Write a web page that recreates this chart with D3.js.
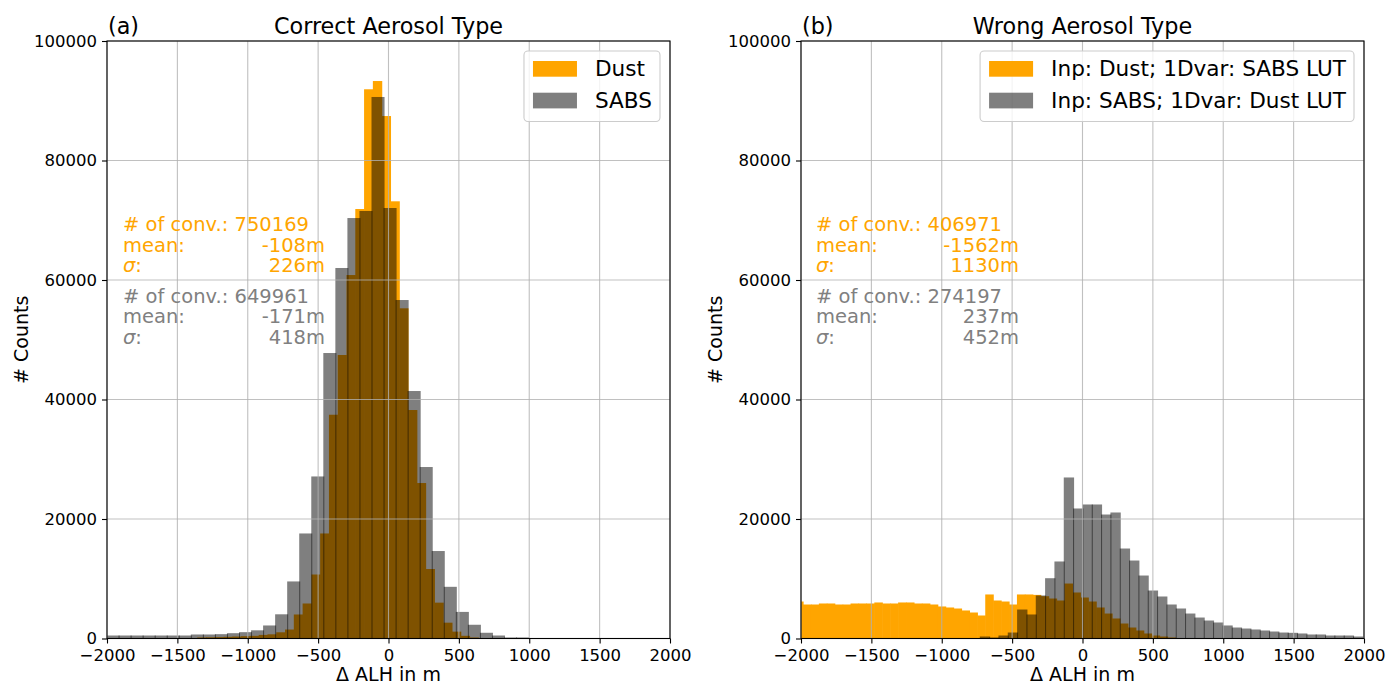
<!DOCTYPE html>
<html>
<head>
<meta charset="utf-8">
<script src="https://cdn.jsdelivr.net/npm/d3@7"></script>
<style>
  body { margin: 0; background: #fff; }
  svg { display: block; }
  text { font-family: "DejaVu Sans", sans-serif; }
</style>
</head>
<body>
<svg id="chart" width="1386" height="684"></svg>
<script>
// ---- Axis ticks ----
const xTicks = [-2000, -1500, -1000, -500, 0, 500, 1000, 1500, 2000];
const yTicks = [0, 20000, 40000, 60000, 80000, 100000];

// ---- (a) Correct aerosol type ----
// Dust histogram: first bin edge and bin width in m, counts per bin
const dustStartA = -1357;
const dustWidthA = 62.4;
const dustCountsA = [170, 200, 230, 280, 330, 390, 450, 600, 700, 1040, 1500, 4020,
  5860, 10710, 17580, 37450, 47450, 60830, 71880, 91920, 93300, 87440, 73170, 55260,
  38240, 26020, 11630, 6000, 2650, 1150, 450, 170];
// SABS histogram
const sabsStartA = -2000;
const sabsWidthA = 85.58;
const sabsCountsA = [500, 500, 500, 500, 500, 500, 500, 670, 670, 725, 890, 1060, 1370,
  2180, 4050, 9550, 17580, 27120, 47780, 62010, 70370, 71550, 90630, 72050, 56650, 41420,
  28700, 14640, 8650, 4450, 2300, 960, 500, 170, 170];

// ---- (b) Wrong aerosol type ----
const dustStartB = -2039.8;
const dustWidthB = 56.29;
const dustCountsB = [6190, 5690, 5690, 5860, 5860, 5690, 5690, 5860, 5860, 5860, 6030,
  5860, 5860, 6030, 6030, 5860, 5860, 5690, 5360, 5190, 5020, 4690, 4350, 3850, 7370,
  6360, 6190, 5690, 7370, 7370, 7300, 7080, 6690, 6360, 9200, 7700, 6860, 6190, 5190,
  4180, 3350, 2510, 1840, 1340, 840, 500, 330, 170];
const sabsStartB = -726.3;
const sabsWidthB = 66.3;
const sabsCountsB = [335, 170, 500, 1000, 4850, 4020, 7200, 10090, 12890, 26950, 21760,
  22430, 22430, 20750, 21090, 15060, 13050, 10540, 8030, 7030, 5690, 5020, 4180, 3510,
  3010, 2680, 2180, 1840, 1670, 1510, 1340, 1170, 1000, 950, 840, 670, 670, 500, 500,
  500, 335];

// ---- Texts ----
const panelTags = ["(a)", "(b)"];
const panelTitles = ["Correct Aerosol Type", "Wrong Aerosol Type"];
const legendLabelsA = ["Dust", "SABS"];
const legendLabelsB = ["Inp: Dust; 1Dvar: SABS LUT", "Inp: SABS; 1Dvar: Dust LUT"];
const statsA = { dust: ["750169", "-108m", "226m"], sabs: ["649961", "-171m", "418m"] };
const statsB = { dust: ["406971", "-1562m", "1130m"], sabs: ["274197", "237m", "452m"] };

const ORANGE = "#ffa500";
const GREY_TEXT = "#808080";
const FS_TICK = 16.5, FS_TITLE = 22.3, FS_LABEL = 19, FS_LEGEND = 21.6, FS_STATS = 19.5;

const svg = d3.select("#chart");

const panels = [
  { left: 107, right: 670, tag: panelTags[0], title: panelTitles[0],
    dust: { start: dustStartA, width: dustWidthA, counts: dustCountsA },
    sabs: { start: sabsStartA, width: sabsWidthA, counts: sabsCountsA },
    legend: legendLabelsA, stats: statsA, textLeft: 123, textRight: 325 },
  { left: 801, right: 1364, tag: panelTags[1], title: panelTitles[1],
    dust: { start: dustStartB, width: dustWidthB, counts: dustCountsB },
    sabs: { start: sabsStartB, width: sabsWidthB, counts: sabsCountsB },
    legend: legendLabelsB, stats: statsB, textLeft: 816, textRight: 1019 }
];

const plotTop = 41, plotBottom = 638.5;

panels.forEach((p, pi) => {
  const x = d3.scaleLinear().domain([-2000, 2000]).range([p.left, p.right]);
  const y = d3.scaleLinear().domain([0, 100000]).range([plotBottom, plotTop]);
  const g = svg.append("g");

  const clipId = "clip" + pi;
  svg.append("clipPath").attr("id", clipId)
    .append("rect").attr("x", p.left).attr("y", plotTop)
    .attr("width", p.right - p.left).attr("height", plotBottom - plotTop);

  const bars = g.append("g").attr("clip-path", `url(#${clipId})`);

  const bins = s => s.counts.map((c, i) => ({ x0: s.start + i * s.width, x1: s.start + (i + 1) * s.width, c }));

  // dust bars (opaque orange)
  bars.append("g").selectAll("rect").data(bins(p.dust)).join("rect")
    .attr("x", d => x(d.x0) - 0.3)
    .attr("width", d => x(d.x1) - x(d.x0) + 0.6)
    .attr("y", d => y(d.c))
    .attr("height", d => y(0) - y(d.c))
    .attr("fill", ORANGE);

  // SABS bars (half-transparent black), neighbours overlap slightly
  bars.append("g").selectAll("rect").data(bins(p.sabs)).join("rect")
    .attr("x", d => x(d.x0) - 0.5)
    .attr("width", d => x(d.x1) - x(d.x0) + 1)
    .attr("y", d => y(d.c))
    .attr("height", d => y(0) - y(d.c))
    .attr("fill", "#000")
    .attr("fill-opacity", 0.5);

  // grid
  const grid = g.append("g").attr("stroke", "#b0b0b0").attr("stroke-width", 1.1).attr("stroke-opacity", 0.8);
  xTicks.forEach(t => grid.append("line").attr("x1", x(t)).attr("x2", x(t)).attr("y1", plotTop).attr("y2", plotBottom));
  yTicks.forEach(t => grid.append("line").attr("x1", p.left).attr("x2", p.right).attr("y1", y(t)).attr("y2", y(t)));

  // axes
  const fmt = d3.format("d");
  const xAxis = g.append("g").attr("transform", `translate(0,${plotBottom})`)
    .call(d3.axisBottom(x).tickValues(xTicks).tickFormat(fmt).tickSize(5).tickPadding(5));
  const yAxis = g.append("g").attr("transform", `translate(${p.left},0)`)
    .call(d3.axisLeft(y).tickValues(yTicks).tickFormat(fmt).tickSize(5).tickPadding(5));
  [xAxis, yAxis].forEach(a => {
    a.select(".domain").remove();
    a.selectAll("text").attr("font-size", FS_TICK).attr("fill", "#000")
      .attr("font-family", "DejaVu Sans");
    a.selectAll("line").attr("stroke", "#000").attr("stroke-width", 1.1);
  });
  xAxis.selectAll("text").attr("dy", "0.74em");

  // frame
  g.append("rect").attr("x", p.left).attr("y", plotTop)
    .attr("width", p.right - p.left).attr("height", plotBottom - plotTop)
    .attr("fill", "none").attr("stroke", "#000").attr("stroke-width", 1.1);

  // titles
  g.append("text").attr("x", p.left + 1).attr("y", 34).attr("font-size", FS_TITLE)
    .text(p.tag);
  g.append("text").attr("x", (p.left + p.right) / 2).attr("y", 34).attr("font-size", FS_TITLE)
    .attr("text-anchor", "middle").text(p.title);

  // axis labels
  g.append("text").attr("x", (p.left + p.right) / 2).attr("y", 681).attr("font-size", FS_LABEL)
    .attr("text-anchor", "middle").text("Δ ALH in m");
  g.append("text").attr("transform", `translate(${p.left - 79},${(plotTop + plotBottom) / 2}) rotate(-90)`)
    .attr("font-size", FS_LABEL).attr("text-anchor", "middle").text("# Counts");

  // statistics
  const statBlock = (vals, color, y0) => {
    const t = g.append("g").attr("fill", color).attr("font-size", FS_STATS);
    t.append("text").attr("x", p.textLeft).attr("y", y0).text("# of conv.: " + vals[0]);
    t.append("text").attr("x", p.textLeft).attr("y", y0 + 20.7).text("mean:");
    t.append("text").attr("x", p.textRight).attr("y", y0 + 20.7).attr("text-anchor", "end").text(vals[1]);
    const s = t.append("text").attr("x", p.textLeft).attr("y", y0 + 41.4);
    s.append("tspan").attr("font-style", "italic").text("σ");
    s.append("tspan").text(":");
    t.append("text").attr("x", p.textRight).attr("y", y0 + 41.4).attr("text-anchor", "end").text(vals[2]);
  };
  statBlock(p.stats.dust, ORANGE, 231);
  statBlock(p.stats.sabs, GREY_TEXT, 302.5);

  // legend
  const lgRight = p.right - 10;
  const tmp = g.append("g").attr("font-size", FS_LEGEND);
  const widths = p.legend.map(s => {
    const t = tmp.append("text").text(s);
    const w = t.node().getComputedTextLength();
    t.remove();
    return w;
  });
  tmp.remove();
  const lgWidth = 9 + 44 + 18 + d3.max(widths) + 8;
  const lgLeft = lgRight - lgWidth;
  const lg = g.append("g");
  lg.append("rect").attr("x", lgLeft).attr("y", 51).attr("width", lgWidth).attr("height", 70.5)
    .attr("rx", 4).attr("fill", "#fff").attr("fill-opacity", 0.8)
    .attr("stroke", "#cccccc").attr("stroke-width", 1.1);
  const swatches = [{ fill: ORANGE, op: 1 }, { fill: "#000", op: 0.5 }];
  p.legend.forEach((lab, i) => {
    const yy = 61 + i * 31.7;
    lg.append("rect").attr("x", lgLeft + 9).attr("y", yy).attr("width", 44).attr("height", 15.7)
      .attr("fill", swatches[i].fill).attr("fill-opacity", swatches[i].op);
    lg.append("text").attr("x", lgLeft + 9 + 44 + 18).attr("y", yy + 15)
      .attr("font-size", FS_LEGEND).text(lab);
  });
});
</script>
</body>
</html>
